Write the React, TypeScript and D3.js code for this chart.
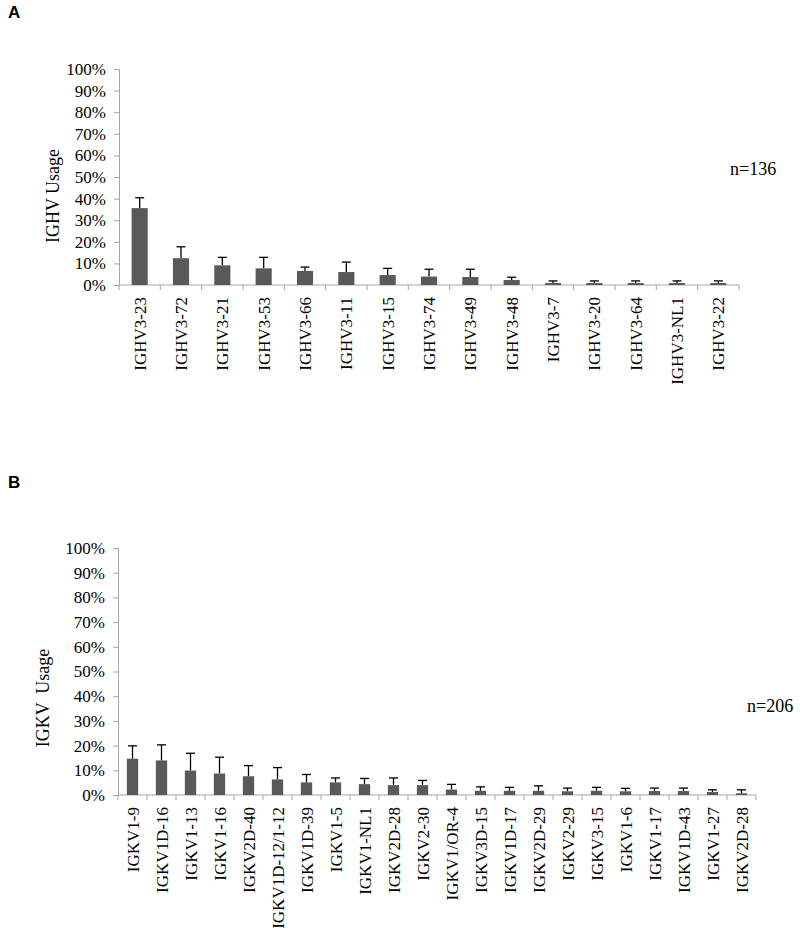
import React, { useEffect, useRef } from 'react';
import * as d3 from 'd3';

// Panel A: IGHV usage (n=136)
const ighvGenes = [
  'IGHV3-23', 'IGHV3-72', 'IGHV3-21', 'IGHV3-53', 'IGHV3-66', 'IGHV3-11', 'IGHV3-15', 'IGHV3-74',
  'IGHV3-49', 'IGHV3-48', 'IGHV3-7', 'IGHV3-20', 'IGHV3-64', 'IGHV3-NL1', 'IGHV3-22'
];
const ighvUsage = [35.6, 12.4, 9.1, 7.7, 6.5, 6.0, 4.6, 3.9, 3.7, 2.3, 0.9, 0.9, 0.9, 0.9, 0.9];
const ighvError = [4.8, 5.3, 3.7, 5.1, 1.8, 4.6, 3.1, 3.4, 3.6, 1.3, 1.0, 1.0, 1.0, 1.0, 1.0];

// Panel B: IGKV usage (n=206)
const igkvGenes = [
  'IGKV1-9', 'IGKV1D-16', 'IGKV1-13', 'IGKV1-16', 'IGKV2D-40', 'IGKV1D-12/1-12', 'IGKV1D-39',
  'IGKV1-5', 'IGKV1-NL1', 'IGKV2D-28', 'IGKV2-30', 'IGKV1/OR-4', 'IGKV3D-15', 'IGKV1D-17',
  'IGKV2D-29', 'IGKV2-29', 'IGKV3-15', 'IGKV1-6', 'IGKV1-17', 'IGKV1D-43', 'IGKV1-27', 'IGKV2D-28'
];
const igkvUsage = [14.7, 14.0, 9.9, 8.7, 7.6, 6.3, 5.1, 5.1, 4.4, 4.0, 4.0, 2.2, 1.7, 1.7, 1.7, 1.5, 1.7, 1.5, 1.6, 1.6, 1.2, 0.7];
const igkvError = [5.2, 6.3, 7.0, 6.6, 4.3, 4.8, 3.2, 1.8, 2.3, 2.9, 1.9, 2.1, 1.6, 1.4, 2.0, 1.3, 1.4, 1.2, 1.2, 1.2, 0.9, 1.4];

const yTicks = [0, 10, 20, 30, 40, 50, 60, 70, 80, 90, 100];

const serif = '"Liberation Serif", "Times New Roman", serif';
const axisGray = '#a6a6a6';
const barFill = '#595959';

function drawPanel(svg, opts) {
  const { genes, usage, err, left, right, top, bottom, letter, letterY, title, titleX, titleY, nText, nX, nY } = opts;

  // index domain, since a gene name can appear twice (IGKV2D-28)
  const idx = genes.map((d, i) => i);
  const x = d3.scaleBand().domain(idx).range([left, right]).paddingInner(0.61).paddingOuter(0.305);
  const y = d3.scaleLinear().domain([0, 100]).range([bottom, top]);
  const cx = i => x(i) + x.bandwidth() / 2;

  const g = svg.append('g');

  // panel letter
  g.append('text')
    .attr('x', 8).attr('y', letterY)
    .style('font-family', '"Liberation Sans", Arial, sans-serif')
    .style('font-weight', 700)
    .style('font-size', '17px')
    .text(letter);

  // y axis
  const yAxis = g.append('g')
    .attr('transform', `translate(${left},0)`)
    .call(d3.axisLeft(y).tickValues(yTicks).tickSize(5).tickPadding(8).tickFormat(d => d + '%'));
  yAxis.select('.domain').attr('stroke', axisGray);
  yAxis.selectAll('.tick line').attr('stroke', axisGray);
  yAxis.selectAll('.tick text')
    .attr('fill', '#000')
    .style('font-family', serif)
    .style('font-size', '17px');

  // x axis baseline + tick marks between categories
  const step = x.step();
  g.append('line')
    .attr('x1', left).attr('x2', right).attr('y1', bottom).attr('y2', bottom)
    .attr('stroke', axisGray);
  g.selectAll('.xtick')
    .data(d3.range(genes.length + 1))
    .enter()
    .append('line')
    .attr('x1', i => left + i * step).attr('x2', i => left + i * step)
    .attr('y1', bottom).attr('y2', bottom + 5)
    .attr('stroke', axisGray);

  // category labels rotated
  g.selectAll('.xlabel')
    .data(idx)
    .enter()
    .append('text')
    .attr('transform', i => `translate(${cx(i) + 6},${bottom + 12}) rotate(-90)`)
    .attr('text-anchor', 'end')
    .style('font-family', serif)
    .style('font-size', '17px')
    .text(i => genes[i]);

  // error bars (upper only)
  const capHalf = Math.min(4.5, x.bandwidth() / 2);
  const eb = g.selectAll('.err')
    .data(idx)
    .enter()
    .append('g');
  eb.append('line')
    .attr('x1', cx).attr('x2', cx)
    .attr('y1', i => y(usage[i])).attr('y2', i => y(usage[i] + err[i]))
    .attr('stroke', '#000').attr('stroke-width', 1.3);
  eb.append('line')
    .attr('x1', i => cx(i) - capHalf).attr('x2', i => cx(i) + capHalf)
    .attr('y1', i => y(usage[i] + err[i])).attr('y2', i => y(usage[i] + err[i]))
    .attr('stroke', '#000').attr('stroke-width', 1.3);

  // bars
  g.selectAll('.bar')
    .data(idx)
    .enter()
    .append('rect')
    .attr('x', i => x(i))
    .attr('width', x.bandwidth())
    .attr('y', i => y(usage[i]))
    .attr('height', i => bottom - y(usage[i]))
    .attr('fill', barFill);

  // y title
  g.append('text')
    .attr('transform', `translate(${titleX},${titleY}) rotate(-90)`)
    .attr('text-anchor', 'middle')
    .style('font-family', serif)
    .style('font-size', '18px')
    .style('white-space', 'pre')
    .text(title);

  // sample size
  g.append('text')
    .attr('x', nX).attr('y', nY)
    .style('font-family', serif)
    .style('font-size', '18px')
    .text(nText);
}

export default function App() {
  const ref = useRef(null);

  useEffect(() => {
    const root = d3.select(ref.current);
    root.selectAll('*').remove();
    const svg = root.append('svg')
      .attr('width', 800)
      .attr('height', 930)
      .style('display', 'block')
      .style('background', '#fff');

    drawPanel(svg, {
      genes: ighvGenes, usage: ighvUsage, err: ighvError,
      left: 119, right: 739, top: 69, bottom: 285,
      letter: 'A', letterY: 18,
      title: 'IGHV Usage', titleX: 59, titleY: 196,
      nText: 'n=136', nX: 730, nY: 175
    });

    drawPanel(svg, {
      genes: igkvGenes, usage: igkvUsage, err: igkvError,
      left: 118, right: 756, top: 548, bottom: 795,
      letter: 'B', letterY: 488,
      title: 'IGKV  Usage', titleX: 49, titleY: 698,
      nText: 'n=206', nX: 747, nY: 712
    });
  }, []);

  return <div ref={ref} style={{ position: 'absolute', left: 0, top: 0 }}></div>;
}
